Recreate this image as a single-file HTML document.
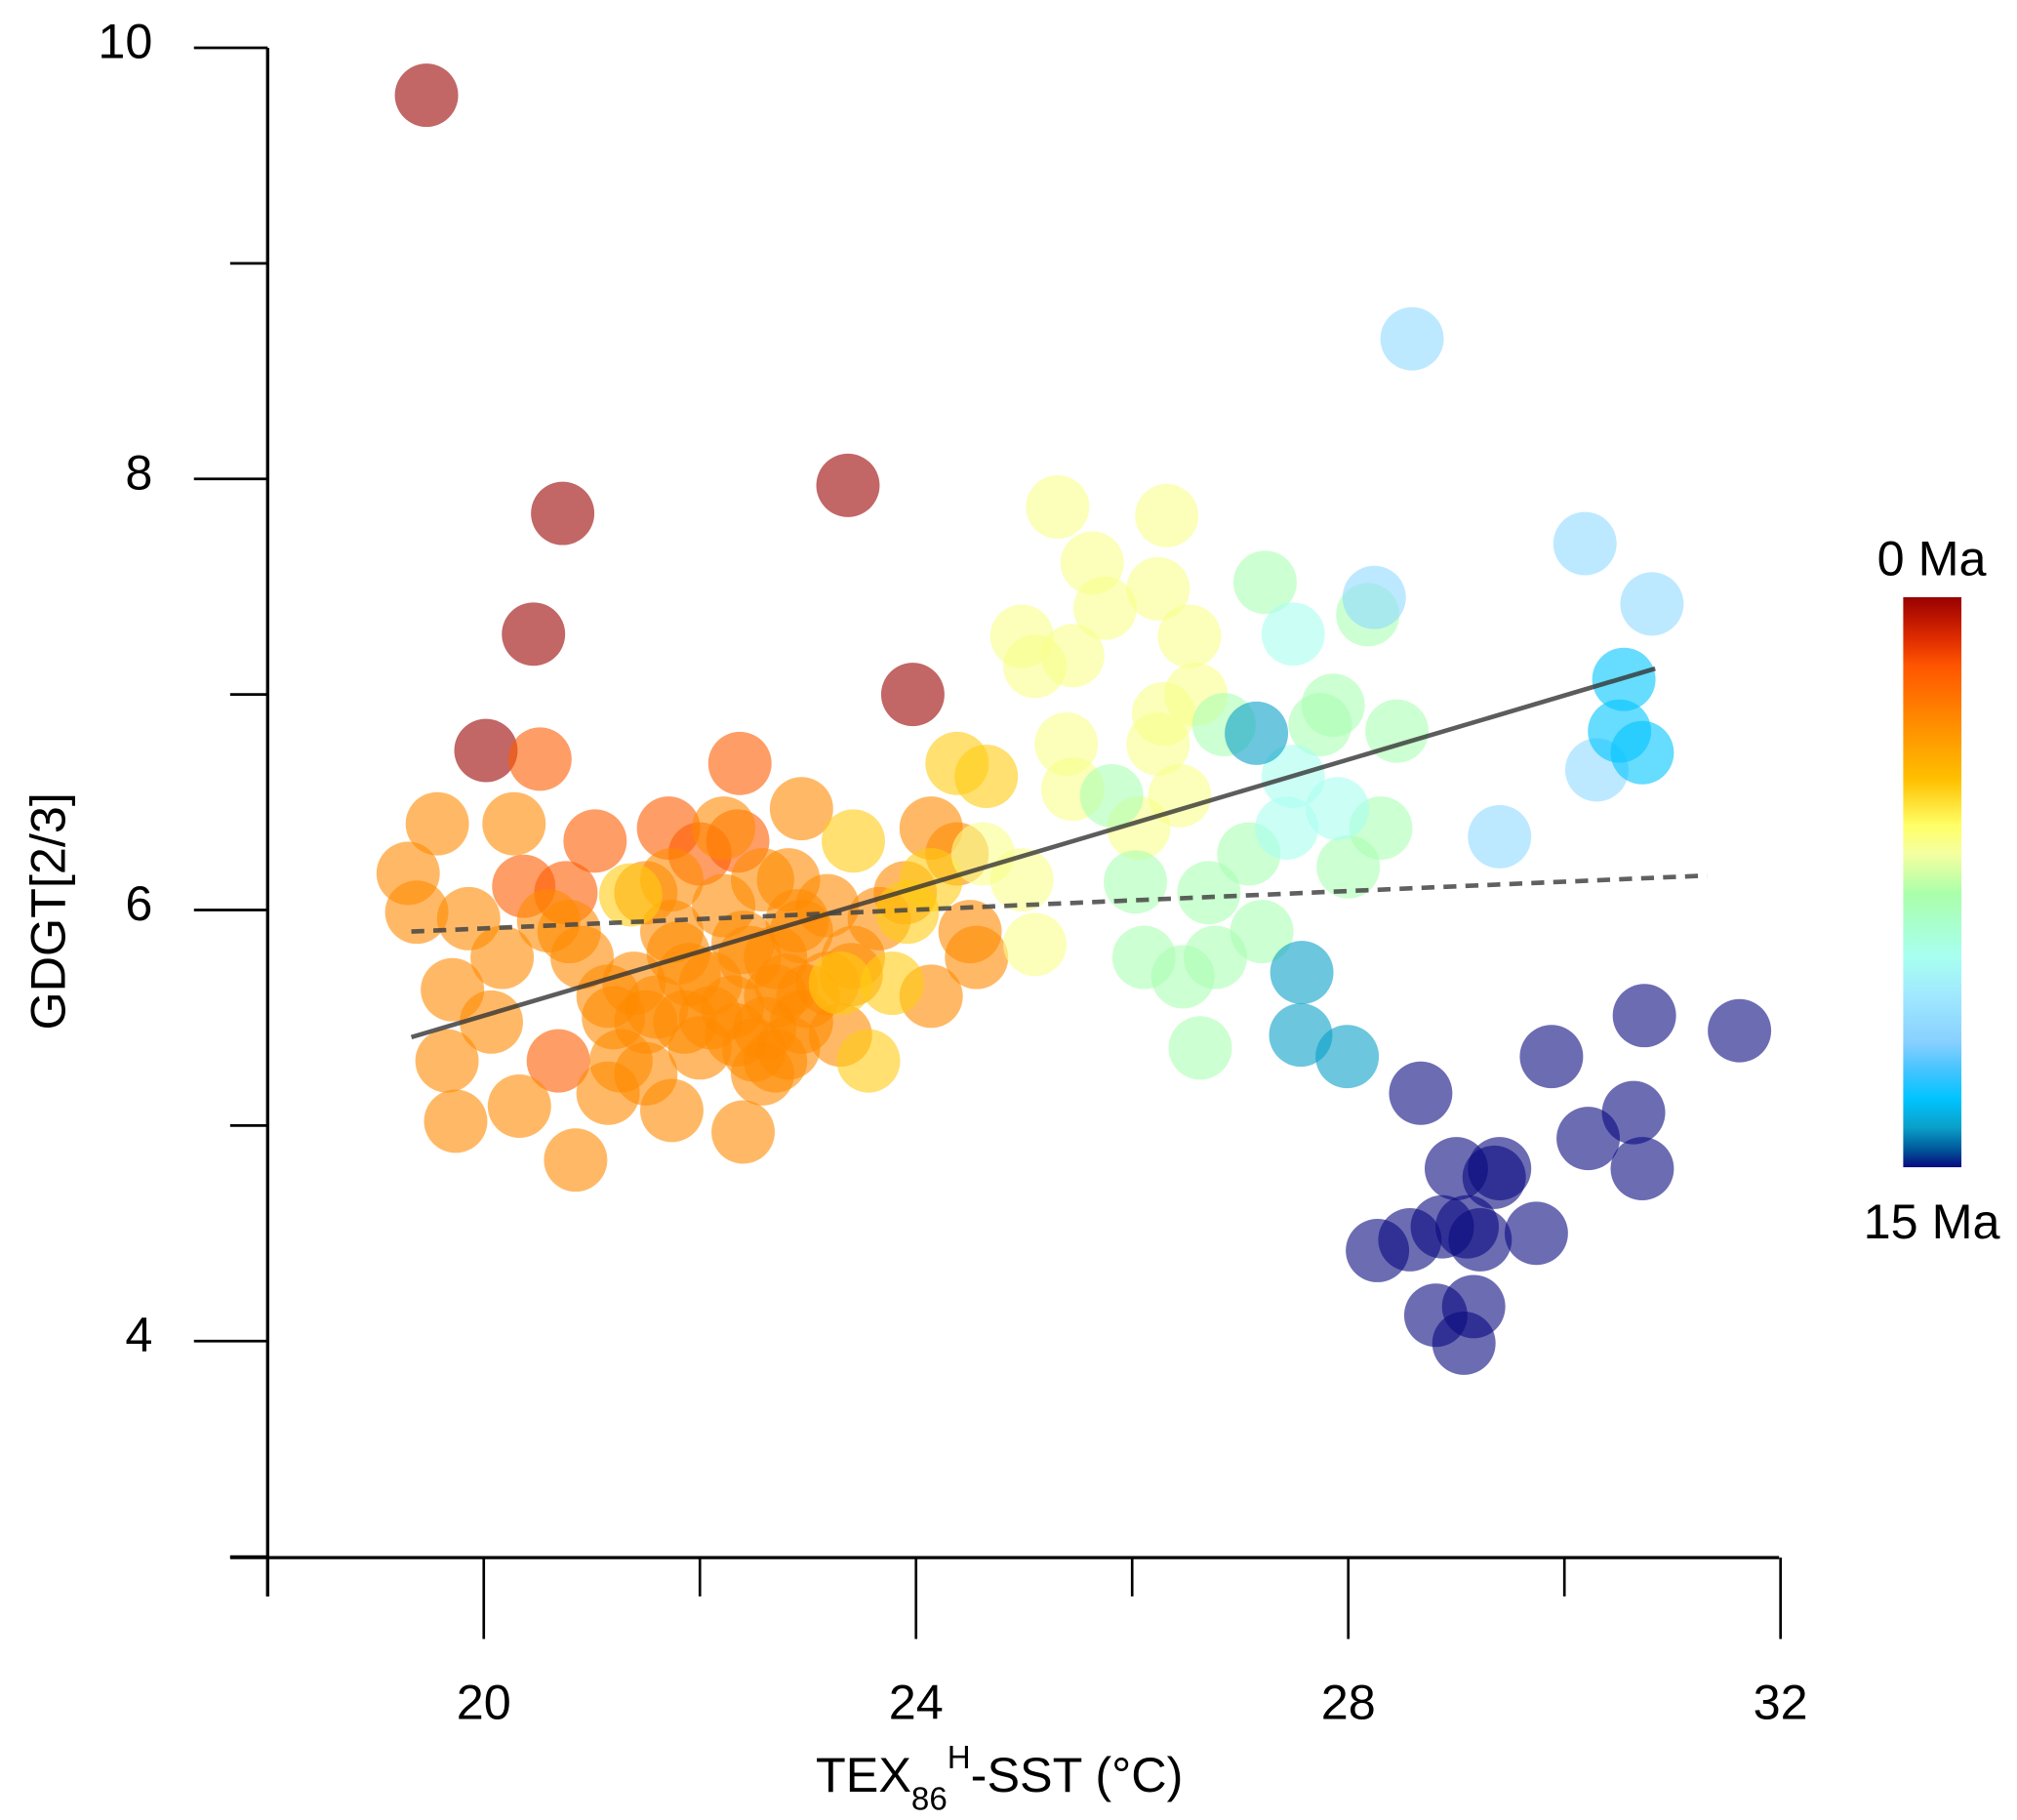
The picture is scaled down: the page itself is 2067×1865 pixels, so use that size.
<!DOCTYPE html>
<html><head><meta charset="utf-8"><style>
html,body{margin:0;padding:0;background:#fff;}
svg{display:block;font-family:"Liberation Sans",sans-serif;}
</style></head><body>
<svg id="chart" width="2067" height="1865" viewBox="0 0 1560 1408" preserveAspectRatio="none" xmlns="http://www.w3.org/2000/svg">
<defs>
<linearGradient id="cbar" x1="0" y1="0" x2="0" y2="1">
<stop offset="0" stop-color="#990000"/>
<stop offset="0.07" stop-color="#dd2a00"/>
<stop offset="0.12" stop-color="#ff5500"/>
<stop offset="0.22" stop-color="#ff8c00"/>
<stop offset="0.32" stop-color="#ffc000"/>
<stop offset="0.4" stop-color="#ffff66"/>
<stop offset="0.45" stop-color="#f4ffa0"/>
<stop offset="0.52" stop-color="#aaffaa"/>
<stop offset="0.63" stop-color="#a8fff0"/>
<stop offset="0.7" stop-color="#a0e8ff"/>
<stop offset="0.78" stop-color="#88d0ff"/>
<stop offset="0.83" stop-color="#44c4ff"/>
<stop offset="0.88" stop-color="#00c4ff"/>
<stop offset="0.93" stop-color="#0aa0c8"/>
<stop offset="0.97" stop-color="#005599"/>
<stop offset="1" stop-color="#0a0a80"/>
</linearGradient>
</defs>
<g id="points"></g>
<g id="lines"></g>
<g id="axes"></g>
<rect x="1472" y="462" width="45" height="441" fill="url(#cbar)"/>
<text x="1494" y="445" font-size="38" text-anchor="middle">0 Ma</text>
<text x="1494" y="958" font-size="38" text-anchor="middle">15 Ma</text>
<text x="773" y="1386" font-size="38" text-anchor="middle">TEX<tspan font-size="25" dy="14">86</tspan><tspan font-size="25" dy="-32">H</tspan><tspan dy="18">-SST (°C)</tspan></text>
<text transform="translate(50,705) rotate(-90)" font-size="38" text-anchor="middle">GDGT[2/3]</text>
</svg>
<script>
const xs = [19.47,20.02,20.73,20.46,23.37,23.97,
22.37,20.52,20.37,20.76,21.71,21.03,20.69,22.0,22.35,
19.3,19.57,19.38,19.86,19.71,20.07,19.66,19.74,20.33,20.85,20.28,20.17,21.15,21.5,21.74,22.4,22.94,22.58,22.82,21.39,21.74,22.1,22.22,22.46,22.70,22.94,23.18,21.86,21.5,21.15,22.0,22.34,22.70,22.94,22.22,22.58,21.5,20.91,20.79,23.66,23.9,23.42,22.82,21.27,21.74,23.18,23.3,24.14,24.38,24.5,24.56,24.14,
22.3,22.6,22.8,22.1,21.9,22.5,22.7,23.0,21.6,21.8,22.4,22.9,23.4,21.2,20.6,
24.38,24.65,23.42,23.92,23.56,23.78,23.3,21.36,24.14,
25.31,24.98,25.1,25.45,25.63,25.75,26.32,26.24,26.53,26.59,26.29,26.24,26.44,25.39,25.45,24.98,25.1,24.62,26.06,
25.81,26.03,26.11,26.47,26.63,26.77,26.71,26.85,27.23,27.2,27.08,28.18,28.45,28.3,28.0,27.74,27.86,
27.49,27.49,27.43,27.9,
27.15,27.57,27.56,27.99,
28.59,28.24,30.19,30.81,29.40,30.3,
30.55,30.51,30.72,
28.67,29.88,30.74,31.62,30.22,30.64,30.72,29.0,29.35,29.4,28.27,28.57,28.87,29.1,29.74,29.22,28.81,29.16,29.07];
const ys = [9.78,6.74,7.84,7.28,7.97,7.0,
6.68,6.70,6.11,6.08,6.38,6.32,5.30,6.26,6.32,
6.17,6.40,5.99,5.96,5.63,5.48,5.30,5.02,5.09,4.84,6.40,5.78,5.15,5.24,5.07,4.97,6.47,5.24,5.36,5.66,5.90,5.66,6.02,5.78,5.60,5.90,6.02,5.48,5.48,5.60,5.36,5.42,5.78,5.48,6.38,6.14,6.08,5.78,5.90,5.96,6.08,5.78,6.14,5.30,6.14,5.66,5.42,6.38,6.26,5.90,5.78,5.60,
5.55,5.45,5.65,5.5,5.7,5.35,5.3,5.6,5.55,5.8,5.85,5.95,5.7,5.5,5.95,
6.68,6.62,6.32,5.99,5.30,5.66,5.66,6.07,6.14,
7.87,7.27,7.13,7.18,7.61,7.40,7.83,7.49,7.27,7.0,6.91,6.77,6.53,6.77,6.56,6.14,5.84,6.26,6.38,
6.53,6.13,5.78,5.69,5.36,5.78,6.08,6.86,7.52,5.9,6.26,7.37,6.83,6.38,6.2,6.86,6.95,
7.28,6.62,6.38,6.47,
6.82,5.71,5.42,5.32,
8.65,7.45,7.70,7.42,6.34,6.65,
7.07,6.83,6.73,
5.15,5.32,5.51,5.44,4.94,5.06,4.8,4.8,4.76,4.8,4.42,4.47,4.53,4.53,4.5,4.47,4.12,4.16,3.99];
const groupSizes = [6,9,67,9,19,17,4,4,6,3,19];
const groupAges = [0,2,3.4,5,6.5,8,9.5,13.5,11,12.5,15];
const solidLineX = [19.33,30.84];
const solidLineY = [5.41,7.12];
const dashLineX = [19.33,31.32];
const dashLineY = [5.90,6.16];
const xTicks = [20,24,28,32];
const yTicks = [4,6,8,10];

const NS='http://www.w3.org/2000/svg';
function sx(v){return 207+(v-18)*83.58;}
function sy(v){return 37+(10-v)*166.75;}
const cstops=[[0,[153,0,0]],[1,[221,42,0]],[1.8,[255,85,0]],[3.3,[255,135,0]],[4.8,[255,192,0]],[6,[255,255,102]],[6.8,[244,255,160]],[7.8,[170,255,170]],[9.5,[168,255,240]],[10.5,[160,232,255]],[11.7,[120,200,255]],[12.5,[0,196,255]],[13.5,[10,160,200]],[14.5,[0,85,153]],[15,[10,10,128]]];
function ageColor(a){
  for(let i=0;i<cstops.length-1;i++){const [a0,c0]=cstops[i],[a1,c1]=cstops[i+1];
    if(a<=a1){const t=(a-a0)/(a1-a0);return 'rgb('+c0.map((c,k)=>Math.round(c+(c1[k]-c)*t)).join(',')+')';}}
  return 'rgb(10,10,128)';
}
function mk(tag,attrs,parent){const e=document.createElementNS(NS,tag);for(const k in attrs)e.setAttribute(k,attrs[k]);parent.appendChild(e);return e;}
const pg=document.getElementById('points');
let idx=0;
groupSizes.forEach((n,g)=>{
  for(let i=0;i<n;i++,idx++){
    const c=mk('circle',{cx:sx(xs[idx]),cy:sy(ys[idx]),r:24.5,fill:ageColor(groupAges[g]),'fill-opacity':0.6},pg);
    
    
  }
});
const lg=document.getElementById('lines');
const l1=mk('line',{x1:sx(solidLineX[0]),y1:sy(solidLineY[0]),x2:sx(solidLineX[1]),y2:sy(solidLineY[1]),stroke:'#333','stroke-width':3.5,'stroke-opacity':0.8},lg);


const l2=mk('line',{x1:sx(dashLineX[0]),y1:sy(dashLineY[0]),x2:sx(dashLineX[1]),y2:sy(dashLineY[1]),stroke:'#444','stroke-width':3.5,'stroke-dasharray':'10,7','stroke-opacity':0.85},lg);


const ag=document.getElementById('axes');
const ya=mk('line',{x1:207,y1:37,x2:207,y2:1235,stroke:'#000','stroke-width':2.5},ag);


const xa=mk('line',{x1:178,y1:1205,x2:1376,y2:1205,stroke:'#000','stroke-width':2.5},ag);


for(let v=18;v<=32;v+=2){
  const major=xTicks.includes(v);
  const t=mk('line',{x1:sx(v),y1:1205,x2:sx(v),y2:major?1268:1235,stroke:'#000','stroke-width':2},ag);
  
  
}
xTicks.forEach(v=>{
  const t=mk('text',{x:sx(v),y:1330,'font-size':38,'text-anchor':'middle'},ag);t.textContent=v;
  
  
});
for(let v=3;v<=10;v++){
  const major=yTicks.includes(v);
  const t=mk('line',{x1:major?150:178,y1:sy(v),x2:207,y2:sy(v),stroke:'#000','stroke-width':2},ag);
  
  
}
yTicks.forEach(v=>{
  const t=mk('text',{x:118,y:sy(v)+8,'font-size':38,'text-anchor':'end'},ag);t.textContent=v;
  
  
});
</script>
</body></html>
